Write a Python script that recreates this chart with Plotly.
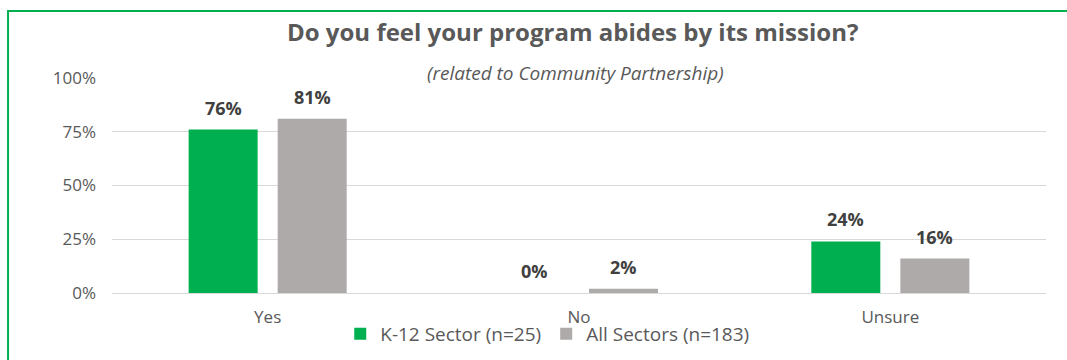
import plotly.graph_objects as go

# Survey responses (percent of respondents)
categories = ["Yes", "No", "Unsure"]
k12_values = [76, 0, 24]
all_values = [81, 2, 16]
series_names = ["K-12 Sector (n=25)", "All Sectors (n=183)"]
y_ticks = [0, 25, 50, 75, 100]
y_tick_labels = ["0%", "25%", "50%", "75%", "100%"]

GREEN = "#00B050"
GRAY = "#AEAAAA"
TEXT = "#595959"
FONT = "Open Sans"

fig = go.Figure()
fig.add_trace(go.Bar(x=categories, y=k12_values, name=series_names[0],
                     marker=dict(color=GREEN, line=dict(width=0))))
fig.add_trace(go.Bar(x=categories, y=all_values, name=series_names[1],
                     marker=dict(color=GRAY, line=dict(width=0))))

# Value labels above each bar
annotations = []
for vals, shift in ((k12_values, -44.5), (all_values, 44.5)):
    for cat, v in zip(categories, vals):
        annotations.append(dict(
            x=cat, y=v, xref="x", yref="y", text=f"<b>{v}%</b>",
            showarrow=False, xshift=shift, yshift=22, yanchor="middle",
            font=dict(family=FONT, size=18, color="#404040")))

annotations.append(dict(
    x=0.493, y=1.215, xref="paper", yref="paper",
    text="<b>Do you feel your program abides by its mission?</b>",
    showarrow=False, xanchor="center", yanchor="middle",
    font=dict(family=FONT, size=24, color=TEXT)))
annotations.append(dict(
    x=0.496, y=1.023, xref="paper", yref="paper",
    text="<i>(related to Community Partnership)</i>",
    showarrow=False, xanchor="center", yanchor="middle",
    font=dict(family=FONT, size=19, color=TEXT)))

fig.update_layout(
    width=1067, height=360,
    margin=dict(l=112, r=21, t=78, b=67, autoexpand=False),
    paper_bgcolor="white", plot_bgcolor="white",
    barmode="group", bargap=0.428, bargroupgap=0.225,
    font=dict(family=FONT, color=TEXT),
    showlegend=True,
    legend=dict(orientation="h", x=0.466, xanchor="center",
                y=-0.19, yanchor="middle", bgcolor="rgba(0,0,0,0)",
                font=dict(family=FONT, size=19, color=TEXT),
                itemwidth=30, traceorder="normal"),
    annotations=annotations,
    shapes=[dict(type="rect", xref="paper", yref="paper",
                 x0=-0.1113, x1=1.03, y0=-0.4, y1=1.3116,
                 line=dict(color=GREEN, width=2), layer="above")],
)
fig.update_xaxes(showgrid=False, showline=False, ticks="",
                 tickfont=dict(family=FONT, size=17, color=TEXT),
                 ticklabelstandoff=12)
fig.update_yaxes(range=[0, 100], tickvals=y_ticks, ticktext=y_tick_labels,
                 showgrid=True, gridcolor="#D9D9D9", gridwidth=1,
                 zeroline=True, zerolinecolor="#D9D9D9", zerolinewidth=1,
                 showline=False, ticks="", ticklabelstandoff=15,
                 tickfont=dict(family=FONT, size=17, color=TEXT))

fig.write_html("out.html")
